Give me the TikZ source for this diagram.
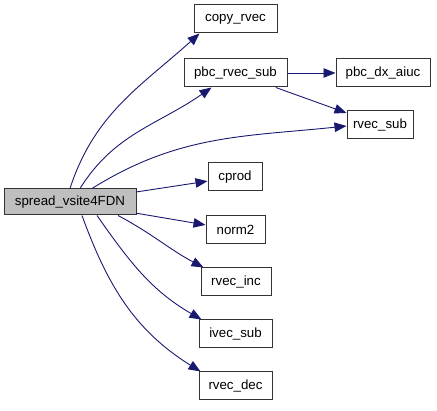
\documentclass[tikz,border=0pt]{standalone}
\usepackage{fontspec}
\setmainfont{Liberation Sans}
\usepackage{xcolor}
\usepackage{tikz}
\usetikzlibrary{arrows.meta,positioning}
\definecolor{edgeblue}{HTML}{191970}
\definecolor{rootgray}{HTML}{BFBFBF}

\begin{document}
\begin{tikzpicture}[x=1pt,y=1pt,font=\fontsize{13.3}{15}\selectfont,
   fn/.style={draw=black!80,line width=1pt,fill=white,minimum height=28pt,
              inner sep=0pt,align=center},
   root/.style={fn,fill=rootgray,minimum height=26pt},
   callarrow/.style={draw=edgeblue,line width=0.9pt,
              -{Triangle[length=12pt,width=9.5pt]}}]
  \useasboundingbox (0,0) rectangle (437,411);
  \node[root,minimum width=132pt] (sp) at (70,209) {spread\_vsite4FDN};
  \node[fn,minimum width=83pt] (copy) at (235.5,392) {copy\_rvec};
  \node[fn,minimum width=103pt] (pbc) at (235.5,338) {pbc\_rvec\_sub};
  \node[fn,minimum width=94pt] (dx) at (383,338) {pbc\_dx\_aiuc};
  \node[fn,minimum width=66pt] (rsub) at (380,286) {rvec\_sub};
  \node[fn,minimum width=54pt] (cprod) at (235,234) {cprod};
  \node[fn,minimum width=59pt] (norm) at (235.5,181) {norm2};
  \node[fn,minimum width=70pt] (inc) at (236,129) {rvec\_inc};
  \node[fn,minimum width=73pt] (ivec) at (235.5,77) {ivec\_sub};
  \node[fn,minimum width=73pt] (dec) at (235.5,25) {rvec\_dec};
  % calls from the root
  \draw[callarrow] (sp.north) to[out=72,in=222] ([xshift=6pt]copy.south west);
  \draw[callarrow] ([xshift=10pt]sp.north) to[out=58,in=215] ([xshift=28pt]pbc.south west);
  \draw[callarrow] ([xshift=22pt]sp.north) to[out=32,in=186] ([yshift=-1pt]rsub.west);
  \draw[callarrow] (sp) -- (cprod);
  \draw[callarrow] (sp) -- (norm);
  \draw[callarrow] ([xshift=48pt]sp.south) to[out=-28,in=152] ([xshift=3pt]inc.north west);
  \draw[callarrow] ([xshift=27pt]sp.south) to[out=-55,in=150] ([xshift=3pt]ivec.north west);
  \draw[callarrow] ([xshift=12pt]sp.south) to[out=-70,in=148] ([xshift=2pt]dec.north west);
  % calls from pbc_rvec_sub
  \draw[callarrow] (pbc) -- (dx);
  \draw[callarrow] (pbc) -- (rsub);
\end{tikzpicture}
\end{document}
